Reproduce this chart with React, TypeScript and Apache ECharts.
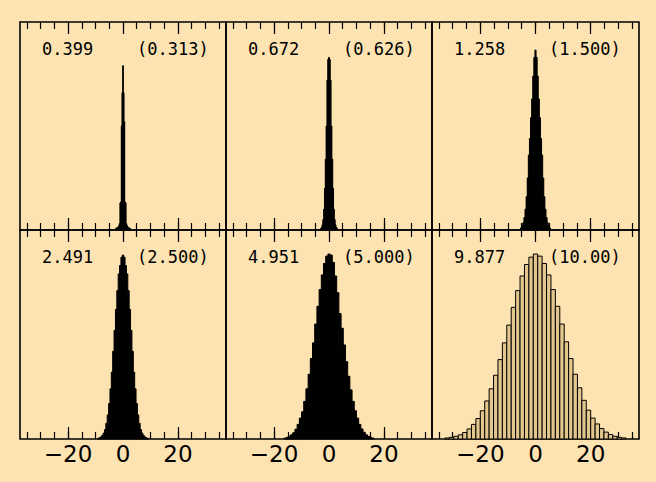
import React, { useEffect, useRef } from "react";
import * as echarts from "echarts";

// Observed and (theoretical) widths shown in each panel
const observedLabels = ["0.399", "0.672", "1.258", "2.491", "4.951", "9.877"];
const theoryLabels = ["(0.313)", "(0.626)", "(1.500)", "(2.500)", "(5.000)", "(10.00)"];

// Histogram bins: first bin centre and bin width per panel
const binStart = [-2.75, -3.0, -5.2, -9.0, -16.0, -32.0];
const binWidth = [0.25, 0.3, 0.4, 0.5, 0.8, 1.6];

// Bin heights (fraction of panel height)
const panel1 = [0.005, 0.008, 0.01, 0.012, 0.015, 0.02, 0.03, 0.13, 0.135, 0.5, 0.66, 0.79, 0.66, 0.52, 0.135, 0.13, 0.03, 0.02, 0.015, 0.012, 0.01, 0.008, 0.005];
const panel2 = [0.006, 0.012, 0.025, 0.05, 0.1, 0.2, 0.34, 0.5, 0.72, 0.82, 0.83, 0.82, 0.72, 0.5, 0.34, 0.2, 0.1, 0.05, 0.025, 0.012, 0.006];
const panel3 = [0.01, 0.02, 0.035, 0.06, 0.1, 0.16, 0.25, 0.36, 0.44, 0.54, 0.63, 0.74, 0.83, 0.865, 0.83, 0.74, 0.63, 0.54, 0.44, 0.36, 0.25, 0.16, 0.1, 0.06, 0.035, 0.02, 0.01];
const panel4 = [0.003, 0.006, 0.01, 0.017, 0.028, 0.045, 0.075, 0.115, 0.17, 0.24, 0.32, 0.42, 0.52, 0.62, 0.71, 0.79, 0.83, 0.87, 0.88, 0.87, 0.83, 0.79, 0.71, 0.62, 0.52, 0.42, 0.32, 0.24, 0.17, 0.115, 0.075, 0.045, 0.028, 0.017, 0.01, 0.006, 0.003];
const panel5 = [0.004, 0.008, 0.013, 0.02, 0.03, 0.047, 0.07, 0.1, 0.13, 0.18, 0.24, 0.31, 0.385, 0.46, 0.55, 0.635, 0.715, 0.785, 0.84, 0.875, 0.885, 0.88, 0.845, 0.78, 0.7, 0.6, 0.53, 0.45, 0.37, 0.3, 0.235, 0.18, 0.135, 0.1, 0.07, 0.048, 0.032, 0.02, 0.013, 0.008, 0.004];
const panel6 = [0.005, 0.008, 0.013, 0.02, 0.031, 0.048, 0.07, 0.098, 0.135, 0.182, 0.24, 0.305, 0.38, 0.46, 0.545, 0.63, 0.71, 0.78, 0.835, 0.87, 0.885, 0.875, 0.84, 0.785, 0.715, 0.635, 0.55, 0.465, 0.385, 0.31, 0.245, 0.185, 0.138, 0.1, 0.072, 0.05, 0.033, 0.021, 0.013, 0.008, 0.005];
const panels = [panel1, panel2, panel3, panel4, panel5, panel6];

// Axis ticks and labels
const minorTicks = [-35, -30, -25, -20, -15, -10, -5, 0, 5, 10, 15, 20, 25, 30, 35];
const majorTicks = [-20, 0, 20];
const tickLabels = [-20, 0, 20];

const BG = "#FDE3B1";

export default function App() {
  const ref = useRef<HTMLDivElement>(null);
  useEffect(() => {
    if (!ref.current) return;
    const chart = echarts.init(ref.current, undefined, { renderer: "svg" });
    const lefts = [20, 226, 432];
    const widths = [206, 206, 207];
    const tops = [22, 230];
    const heights = [208, 209];
    const grids: any[] = [];
    const xAxes: any[] = [];
    const yAxes: any[] = [];
    const series: any[] = [];
    const graphics: any[] = [];
    const tickStyle = { color: "#000", width: 1.2 };
    for (let i = 0; i < 6; i++) {
      const r = Math.floor(i / 3);
      const c = i % 3;
      grids.push({
        left: lefts[c], top: tops[r], width: widths[c], height: heights[r],
        show: true, borderColor: "#000", borderWidth: 1.6, backgroundColor: "transparent",
      });
      const base = { type: "value", gridIndex: i, min: -37.5, max: 37.5, splitLine: { show: false }, axisLine: { show: false } };
      xAxes.push({
        ...base, position: "bottom",
        axisTick: { show: true, inside: true, length: 7, customValues: minorTicks, lineStyle: tickStyle },
        axisLabel: {
          show: r === 1, customValues: tickLabels, margin: 3,
          fontFamily: "DejaVu Sans", fontSize: 23, color: "#000",
          formatter: (v: number) => (v < 0 ? "\u2212" + Math.abs(v) : String(v)),
        },
      });
      xAxes.push({ ...base, position: "bottom", axisTick: { show: true, inside: true, length: 12, customValues: majorTicks, lineStyle: tickStyle }, axisLabel: { show: false } });
      xAxes.push({ ...base, position: "top", axisTick: { show: true, inside: true, length: 7, customValues: minorTicks, lineStyle: tickStyle }, axisLabel: { show: false } });
      xAxes.push({ ...base, position: "top", axisTick: { show: true, inside: true, length: 12, customValues: majorTicks, lineStyle: tickStyle }, axisLabel: { show: false } });
      yAxes.push({ type: "value", gridIndex: i, min: 0, max: 1, show: false });

      const w = binWidth[i];
      const data = panels[i].map((h, k) => {
        const cx = binStart[i] + k * w;
        return [cx - w / 2, cx + w / 2, h];
      });
      const outlined = i === 5;
      series.push({
        type: "custom",
        xAxisIndex: i * 4,
        yAxisIndex: i,
        data,
        renderItem: (_p: any, api: any) => {
          const a = api.coord([api.value(0), 0]);
          const b = api.coord([api.value(1), api.value(2)]);
          return {
            type: "rect",
            shape: { x: a[0], y: b[1], width: b[0] - a[0], height: a[1] - b[1] },
            style: outlined
              ? { fill: "#E3C68C", stroke: "#000", lineWidth: 1 }
              : { fill: "#000", stroke: "#000", lineWidth: 1 },
          };
        },
      });

      graphics.push({
        type: "text", left: lefts[c] + 22, top: tops[r] + 18,
        style: { text: observedLabels[i], fill: "#000", fontFamily: "DejaVu Sans Mono", fontSize: 17 },
      });
      graphics.push({
        type: "text", left: lefts[c] + 117, top: tops[r] + 18,
        style: { text: theoryLabels[i], fill: "#000", fontFamily: "DejaVu Sans Mono", fontSize: 17 },
      });
    }
    chart.setOption({
      animation: false,
      backgroundColor: BG,
      grid: grids,
      xAxis: xAxes,
      yAxis: yAxes,
      series,
      graphic: graphics,
    });
    return () => chart.dispose();
  }, []);
  return <div ref={ref} style={{ position: "fixed", left: 0, top: 0, width: 656, height: 482 }} />;
}
